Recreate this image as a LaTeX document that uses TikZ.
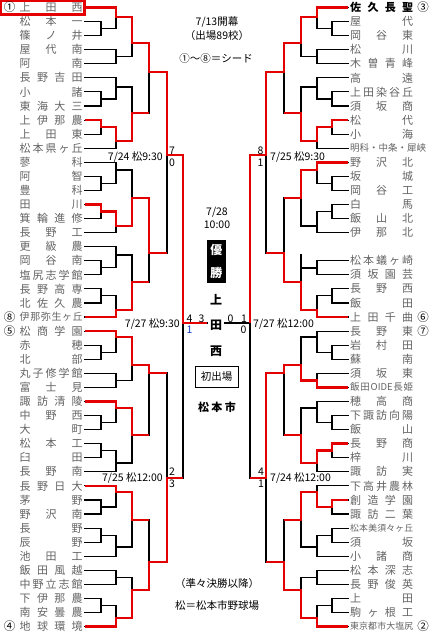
\documentclass[tikz,border=0pt]{standalone}
\usepackage{fontspec}
\setmainfont{Noto Sans CJK JP}
\definecolor{ngray}{RGB}{100,100,100}
\definecolor{bred}{RGB}{228,0,0}
\definecolor{sblue}{RGB}{20,60,200}
\def\spr#1{\sprB#1\relax}
\def\sprB#1#2{#1\ifx\relax#2\else\hfill\expandafter\sprB\expandafter#2\fi}
\newcommand\nbox[1]{\makebox[63pt][s]{\expandafter\spr\expandafter{#1}}}
\newcommand\RY[1]{7.5+14.07*(#1-1)}
\newcommand\commonlines{%
\foreach \a in {2,7,9,13,15,21,25,30,32,36,38,43}{%
  \draw[bk] (85,{\RY{\a}}) -- (101,{\RY{\a}}) (85,{\RY{\a+1}}) -- (101,{\RY{\a+1}})
     (101,{\RY{\a}}) -- (101,{\RY{\a+1}}) (101,{\RY{\a}+7.035}) -- (116,{\RY{\a}+7.035});}
\foreach \r in {1,4,5,6,11,12,17,23,24,27,28,29,34,35,40,41,42,45}{%
  \draw[bk] (85,{\RY{\r}}) -- (116,{\RY{\r}});}
\foreach \ta/\tb/\tc in {7.5/28.6/17, 49.7/63.8/56.7, 77.9/99/87, 127.1/148.2/141, 162.3/183.4/170, 211.5/232.6/226, 295.9/317/310, 331.1/352.2/337, 373.3/387.4/380.4, 401.5/422.6/408, 450.7/471.8/463, 485.9/507/492, 535.1/556.2/547, 570.3/584.4/577.3, 605.5/626.6/618}{%
  \draw[bk] (116,\ta) -- (116,\tb) (116,\tc) -- (132,\tc);}
\foreach \ta/\tb/\tc in {17/56.7/43, 87/141/113, 170/226/198, 255/310/282, 337/380.4/365, 408/463/435, 492/547/520, 577.3/618/590}{%
  \draw[bk] (132,\ta) -- (132,\tb) (132,\tc) -- (149,\tc);}
\foreach \ta/\tb/\tc in {43/113/72, 198/282/253, 365/435/373, 520/590/562}{%
  \draw[bk] (149,\ta) -- (149,\tb) (149,\tc) -- (167,\tc);}
\foreach \ta/\tb/\tc in {72/253/155, 373/562/478}{%
  \draw[bk] (167,\ta) -- (167,\tb) (167,\tc) -- (183,\tc);}
\draw[bk] (183,155) -- (183,478);
}
\begin{document}
\begin{tikzpicture}[x=1pt,y=-1pt,
  bk/.style={line width=1.1pt,black,line cap=rect},
  rd/.style={line width=2.6pt,bred,line join=miter},
  nm/.style={anchor=west,inner sep=0pt,text=ngray,font=\fontsize{11}{11}\selectfont},
  seed/.style={inner sep=0pt,font=\fontsize{11.5}{11.5}\selectfont},
  ct/.style={inner sep=0pt,font=\fontsize{10.5}{10.5}\selectfont},
  sc/.style={inner sep=0pt,font=\fontsize{10.5}{10.5}\selectfont}]
\fill[white] (0,0) rectangle (435,632);
\useasboundingbox (0,0) rectangle (435,632);

% ---------- left half lines
\commonlines
\draw[bk] (85,{\RY{18}}) -- (116,{\RY{18}});
\draw[bk] (85,{\RY{19}}) -- (101,{\RY{19}}) (85,{\RY{20}}) -- (101,{\RY{20}})
   (101,{\RY{19}}) -- (101,{\RY{20}}) (101,{\RY{19}+7.035}) -- (116,{\RY{19}+7.035});
\draw[bk] (116,246.7) -- (116,267.8) (116,255) -- (132,255);
\draw[bk] (183,323) -- (207,323);

% ---------- right half lines (mirrored)
\begin{scope}[xshift=433pt,xscale=-1]
\commonlines
\draw[bk] (85,{\RY{19}}) -- (116,{\RY{19}}) (85,{\RY{20}}) -- (116,{\RY{20}});
\draw[bk] (116,260.8) -- (116,274.8) (116,268) -- (132,268);
\draw[bk] (183,323) -- (208,323);
\end{scope}

% ---------- red paths, left
\draw[rd] (85,7.5) -| (116,17) -| (132,43) -| (149,72) -| (167,155) -| (183,323) -- (207,323);
\draw[rd] (85,120.06) -| (101,127.1) -| (116,141) -| (132,113) -- (149,113);
\draw[rd] (85,204.5) -| (101,211.5) -| (116,226) -| (132,198) -| (149,253) -- (167,253);
\draw[rd] (85,317.04) -| (116,310) -| (132,282) -- (149,282);
\draw[rd] (85,331.11) -| (116,337) -| (132,365) -| (149,373) -- (167,373);
\draw[rd] (85,401.46) -| (116,408) -| (132,435) -- (149,435);
\draw[rd] (85,485.88) -| (116,492) -| (132,520) -- (149,520);
\draw[rd] (85,626.58) -| (116,618) -| (132,590) -| (149,562) -| (167,478) -- (183,478);
\draw[rd,line width=2.4pt] (1.2,1.2) rectangle (84.5,14.3);

% ---------- red paths, right
\begin{scope}[xshift=433pt,xscale=-1]
\draw[rd] (85,7.5) -| (116,17) -| (132,43) -| (149,72) -| (167,155) -| (183,323);
\draw[rd] (85,120.06) -| (101,127.1) -| (116,141) -| (132,113) -- (149,113);
\draw[rd] (85,162.27) -| (116,170) -| (132,198) -- (149,198);
\draw[rd] (85,317.04) -| (116,310) -| (132,282) -| (149,253) -- (167,253);
\draw[rd] (85,387.39) -| (116,380.4) -| (132,365) -| (149,373) -| (167,478) -- (183,478);
\draw[rd] (85,443.67) -| (101,450.7) -| (116,463) -| (132,435) -- (149,435);
\draw[rd] (85,499.95) -| (101,507) -| (116,492) -| (132,520) -- (149,520);
\draw[rd] (85,626.58) -| (116,618) -| (132,590) -| (149,562) -- (167,562);
\end{scope}

% ---------- left names
\foreach \n/\s in {1/上田西,2/松本一,3/篠ノ井,4/屋代南,5/阿南,6/長野吉田,7/小諸,8/東海大三,9/上伊那農,10/上田東,11/松本県ヶ丘,12/蓼科,13/阿智,14/豊科,15/田川,16/箕輪進修,17/長野工,18/更級農,19/岡谷南,20/塩尻志学館,21/長野高専,22/北佐久農,24/松商学園,25/赤穂,26/北部,27/丸子修学館,28/富士見,29/諏訪清陵,30/中野西,31/大町,32/松本工,33/臼田,34/長野南,35/長野日大,36/茅野,37/野沢南,38/長野,39/辰野,40/池田工,41/飯田風越,42/中野立志館,43/下伊那農,44/南安曇農,45/地球環境}
  {\node[nm] (L\n) at (19.5,{\RY{\n}}) {\nbox{\s}};}
\node[nm,font=\fontsize{10}{10}\selectfont] (L23) at (19.5,{\RY{23}}) {\nbox{伊那弥生ヶ丘}};
\node[seed] (sL1) at (9.5,{\RY{1}}) {①};
\node[seed] (sL23) at (9.5,{\RY{23}}) {⑧};
\node[seed] (sL24) at (9.5,{\RY{24}}) {⑤};
\node[seed] (sL45) at (9.5,{\RY{45}}) {④};

% ---------- right names
\foreach \n/\s in {2/屋代,3/岡谷東,4/松川,5/木曽青峰,6/高遠,7/上田染谷丘,8/須坂商,9/松代,10/小海,12/野沢北,13/坂城,14/岡谷工,15/白馬,16/飯山北,17/伊那北,19/松本蟻ヶ崎,20/須坂園芸,21/長野西,22/飯田,23/上田千曲,24/長野東,25/岩村田,26/蘇南,27/須坂東,29/穂高商,30/下諏訪向陽,31/飯山,32/長野商,33/梓川,34/諏訪実,35/下高井農林,36/創造学園,37/諏訪二葉,39/須坂,40/小諸商,41/松本深志,42/長野俊英,43/上田,44/駒ヶ根工}
  {\node[nm] (R\n) at (350,{\RY{\n}}) {\nbox{\s}};}
\node[nm,text=black,font=\fontsize{11}{11}\selectfont\bfseries] (R1) at (350,{\RY{1}}) {\nbox{佐久長聖}};
\node[nm,font=\fontsize{9.5}{9.5}\selectfont] (R11) at (350,{\RY{11}}) {明科・中条・犀峡};
\node[nm,font=\fontsize{9.5}{9.5}\selectfont] (R28) at (350,{\RY{28}}) {\makebox[63pt][s]{飯\hfill 田\hfill OIDE\hfill 長\hfill 姫}};
\node[nm,font=\fontsize{8.8}{8.8}\selectfont] (R38) at (350,{\RY{38}}) {\nbox{松本美須々ヶ丘}};
\node[nm,font=\fontsize{8.9}{8.9}\selectfont] (R45) at (350,{\RY{45}}) {\nbox{東京都市大塩尻}};
\node[seed] (sR1) at (423,{\RY{1}}) {③};
\node[seed] (sR23) at (423,{\RY{23}}) {⑥};
\node[seed] (sR24) at (423,{\RY{24}}) {⑦};
\node[seed] (sR45) at (423,{\RY{45}}) {②};

% ---------- centre texts
\node[ct] (open) at (217,22.5) {7/13開幕};
\node[ct] (cnt) at (217,36) {（出場89校）};
\node[ct] (seedn) at (216,59) {①～⑧＝シード};
\node[ct,anchor=east] (d1) at (163,157) {7/24 松9:30};
\node[ct,anchor=west] (d2) at (270,157) {7/25 松9:30};
\node[sc] (s1a) at (172,150.5) {7};
\node[sc] (s1b) at (172,163) {0};
\node[sc] (s2a) at (260.5,150.5) {8};
\node[sc] (s2b) at (260.5,163) {1};
\node[ct] (fdate) at (217,212) {7/28};
\node[ct] (ftime) at (217,225) {10:00};
\node[fill=black,minimum width=18.7pt,minimum height=42.7pt,inner sep=0pt] (win) at (216.3,261.3) {};
\node[inner sep=0pt,text=white,font=\fontsize{12}{12}\selectfont\bfseries] (w1) at (216.3,250) {優};
\node[inner sep=0pt,text=white,font=\fontsize{12}{12}\selectfont\bfseries] (w2) at (216.3,272.5) {勝};
\node[inner sep=0pt,font=\fontsize{12}{12}\selectfont\bfseries] (c1) at (216,299.3) {上};
\node[inner sep=0pt,font=\fontsize{12}{12}\selectfont\bfseries] (c2) at (216,325) {田};
\node[inner sep=0pt,font=\fontsize{12}{12}\selectfont\bfseries] (c3) at (216,351.7) {西};
\node[ct,anchor=east] (d3) at (180,324) {7/27 松9:30};
\node[ct,anchor=west] (d4) at (253,324) {7/27 松12:00};
\node[sc] (s3a) at (189.5,318.7) {4};
\node[sc,text=sblue] (s3b) at (189.5,330) {1};
\node[sc] (s3c) at (201.5,318.7) {3};
\node[sc] (s4c) at (230.5,318.7) {0};
\node[sc] (s4a) at (244,318.7) {1};
\node[sc] (s4b) at (243.5,330) {0};
\node[draw,line width=1pt,minimum width=43pt,minimum height=21pt,inner sep=0pt,font=\fontsize{10.5}{10.5}\selectfont] (first) at (216.5,376.5) {初出場};
\node[inner sep=0pt,font=\fontsize{11}{11}\selectfont\bfseries] (city) at (217,407) {\makebox[38pt][s]{松\hfill 本\hfill 市}};
\node[ct,anchor=east] (d5) at (163,478) {7/25 松12:00};
\node[ct,anchor=west] (d6) at (270,478) {7/24 松12:00};
\node[sc] (s5a) at (172,471.5) {2};
\node[sc] (s5b) at (172,483.5) {3};
\node[sc] (s6a) at (261,471.5) {4};
\node[sc] (s6b) at (261,483.5) {1};
\node[ct] (note1) at (217,584) {（準々決勝以降）};
\node[ct] (note2) at (217,605) {松＝松本市野球場};
\end{tikzpicture}
\end{document}
